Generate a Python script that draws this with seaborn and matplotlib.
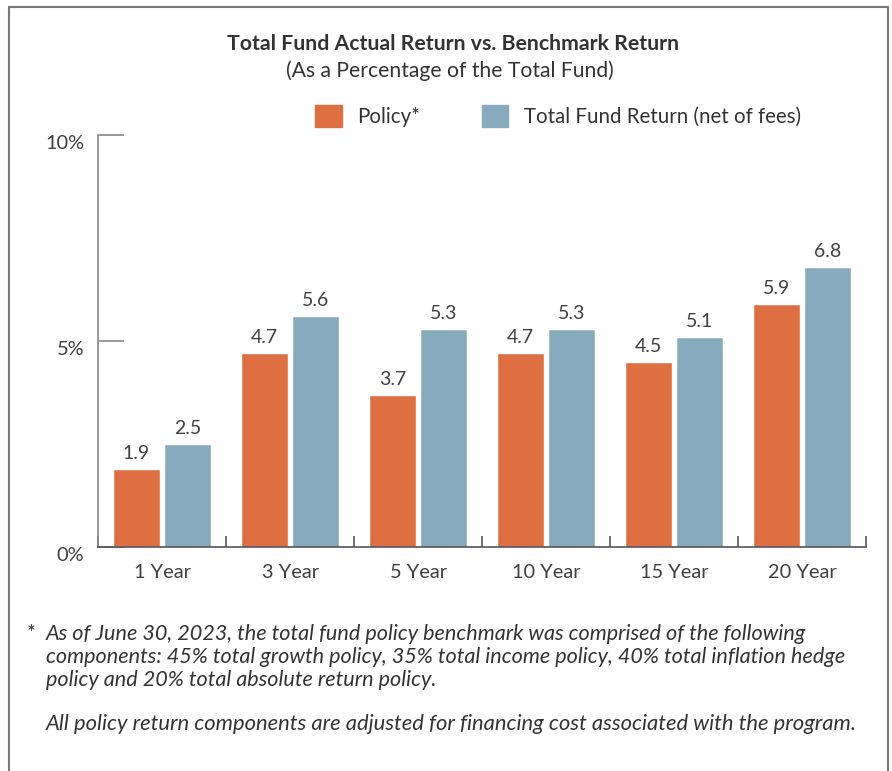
import matplotlib
matplotlib.use("Agg")
import matplotlib.pyplot as plt
import seaborn as sns
import pandas as pd
from matplotlib.patches import Rectangle
from matplotlib.lines import Line2D
from matplotlib.ticker import FixedLocator

categories = ["1 Year", "3 Year", "5 Year", "10 Year", "15 Year", "20 Year"]
policy = [1.9, 4.7, 3.7, 4.7, 4.5, 5.9]
total_fund = [2.5, 5.6, 5.3, 5.3, 5.1, 6.8]
series_names = ["Policy*", "Total Fund Return (net of fees)"]
ytick_vals = [0, 5, 10]
ytick_labels = ["0%", "5%", "10%"]
colors = ["#DE6F43", "#87ABBC"]

df = pd.DataFrame({
    "Period": categories * 2,
    "Return": policy + total_fund,
    "Series": [series_names[0]] * len(categories) + [series_names[1]] * len(categories),
})

sns.set_theme(style="white")
plt.rcParams["font.family"] = ["Lato", "DejaVu Sans"]

fig = plt.figure(figsize=(8.92, 7.71), dpi=100)
ax = fig.add_axes([98 / 892, 1 - 547 / 771, (866 - 98) / 892, (547 - 135) / 771])

sns.barplot(data=df, x="Period", y="Return", hue="Series", order=categories,
            hue_order=series_names, palette=colors, width=0.797, gap=0.08,
            saturation=1, ax=ax, legend=False, errorbar=None)

for cont in ax.containers:
    ax.bar_label(cont, fmt="%.1f", padding=5, fontsize=14, color="#404040")

ax.set_xlim(-0.5, len(categories) - 0.5)
ax.set_ylim(0, 10)
ax.set_xlabel("")
ax.set_ylabel("")
ax.set_yticks(ytick_vals)
ax.set_yticklabels(ytick_labels)
for lbl in ax.get_yticklabels():
    lbl.set_va("top")
ax.xaxis.set_minor_locator(FixedLocator([i - 0.5 for i in range(len(categories) + 1)]))
ax.tick_params(axis="x", which="major", length=0, pad=12, labelsize=14.4, labelcolor="#404040")
ax.tick_params(axis="x", which="minor", direction="in", length=8, width=1.2, color="#555555", bottom=True)
ax.tick_params(axis="y", which="major", direction="in", length=19, width=1.2, color="#888888",
               pad=10, labelsize=14.4, labelcolor="#404040", left=True)
for s in ["top", "right"]:
    ax.spines[s].set_visible(False)
ax.spines["left"].set_color("#888888")
ax.spines["left"].set_linewidth(1.2)
ax.spines["bottom"].set_color("#555555")
ax.spines["bottom"].set_linewidth(1.2)

# outer frame
fig.add_artist(Line2D([9 / 892, 9 / 892], [0, 1 - 7 / 771], transform=fig.transFigure, color="#777777", lw=1.5))
fig.add_artist(Line2D([9 / 892, 888 / 892], [1 - 7 / 771, 1 - 7 / 771], transform=fig.transFigure, color="#777777", lw=1.5))
fig.add_artist(Line2D([888 / 892, 888 / 892], [0, 1 - 7 / 771], transform=fig.transFigure, color="#777777", lw=1.5))

# titles
fig.text(453 / 892, 1 - 44 / 771, "Total Fund Actual Return vs. Benchmark Return",
         ha="center", va="center", fontsize=15.3, fontweight="bold", color="#333333")
fig.text(450 / 892, 1 - 71 / 771, "(As a Percentage of the Total Fund)",
         ha="center", va="center", fontsize=15.2, color="#333333")

# legend
handles = [Rectangle((0, 0), 1, 1, color=c) for c in colors]
fig.legend(handles, series_names, loc="center", bbox_to_anchor=(558 / 892, 1 - 116 / 771),
           ncol=2, frameon=False, fontsize=14.8, handlelength=1.3, handleheight=1.3,
           handletextpad=0.75, columnspacing=3.0, labelcolor="#333333")

# footnotes
fn_color = "#333333"
fig.text(27 / 892, 1 - 634 / 771, "*", ha="left", va="center", fontsize=15, color=fn_color)
lines = ["As of June 30, 2023, the total fund policy benchmark was comprised of the following",
         "components: 45% total growth policy, 35% total income policy, 40% total inflation hedge",
         "policy and 20% total absolute return policy."]
for i, t in enumerate(lines):
    fig.text(46 / 892, 1 - (634 + 23 * i) / 771, t, ha="left", va="center", fontsize=15.6,
             style="italic", color=fn_color)
fig.text(46 / 892, 1 - 724 / 771,
         "All policy return components are adjusted for financing cost associated with the program.",
         ha="left", va="center", fontsize=15.8, style="italic", color=fn_color)

fig.savefig("out.png", dpi=100)
